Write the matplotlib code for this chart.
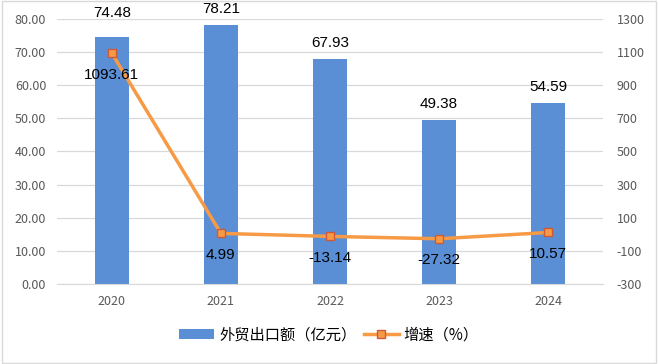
import matplotlib
matplotlib.use("Agg")
import matplotlib.pyplot as plt
from matplotlib.patches import Rectangle

plt.rcParams['font.family'] = ['Noto Sans CJK SC', 'DejaVu Sans']

years = ['2020', '2021', '2022', '2023', '2024']
exports = [74.48, 78.21, 67.93, 49.38, 54.59]
growth = [1093.61, 4.99, -13.14, -27.32, 10.57]
left_ticks = [0, 10, 20, 30, 40, 50, 60, 70, 80]
right_ticks = [-300, -100, 100, 300, 500, 700, 900, 1100, 1300]

bar_color = '#5A8FD5'
line_color = '#F79A45'
marker_edge = '#D0583A'
tick_color = '#595959'
grid_color = '#D9D9D9'

fig = plt.figure(figsize=(6.58, 3.64), dpi=100)
ax = fig.add_axes([0.087, 0.22, 0.829, 0.728])
ax2 = ax.twinx()

x = list(range(len(years)))
ax.bar(x, exports, width=0.31, color=bar_color, zorder=2, label='外贸出口额（亿元）')
ax.set_ylim(0, 80)
ax.set_xlim(-0.5, len(years) - 0.5)
ax.set_yticks(left_ticks)
ax.set_yticklabels([f'{v:.2f}' for v in left_ticks])
ax.set_xticks(x)
ax.set_xticklabels(years)
ax.grid(axis='y', color=grid_color, linewidth=0.9, zorder=0)
ax.set_axisbelow(True)
for s in ['top', 'right', 'left']:
    ax.spines[s].set_visible(False)
ax.spines['bottom'].set_color(grid_color)
ax.tick_params(axis='both', length=0, colors=tick_color, labelsize=9)
ax.tick_params(axis='x', pad=8)
ax.tick_params(axis='y', pad=8)

for i, (xi, v) in enumerate(zip(x, exports)):
    # first label sits higher to clear the line marker
    off = 7.2 if i == 0 else 4.8
    ax.text(xi, v + off, f'{v:.2f}', ha='center', va='center', fontsize=11, color='black',
            family=['Liberation Sans', 'DejaVu Sans'], clip_on=False)

ax2.plot(x, growth, color=line_color, linewidth=2.5, marker='s', markersize=6,
         markerfacecolor=line_color, markeredgecolor=marker_edge, markeredgewidth=1.0,
         zorder=3, label='增速（%）')
ax2.set_ylim(-300, 1300)
ax2.set_yticks(right_ticks)
ax2.set_yticklabels([str(v) for v in right_ticks])
for s in ['top', 'right', 'left', 'bottom']:
    ax2.spines[s].set_visible(False)
ax2.tick_params(axis='y', length=0, colors=tick_color, labelsize=9, pad=10)

for xi, v in zip(x, growth):
    ax2.text(xi, v - 130, f'{v:.2f}', ha='center', va='center', fontsize=11, color='black',
             family=['Liberation Sans', 'DejaVu Sans'])

h1, l1 = ax.get_legend_handles_labels()
h2, l2 = ax2.get_legend_handles_labels()
fig.legend(h1 + h2, l1 + l2, loc='center', bbox_to_anchor=(0.5, 0.08), ncol=2,
           frameon=False, fontsize=11, handlelength=2.3, columnspacing=0.5, handletextpad=0.3)

fig.patches.append(Rectangle((0.003, 0.003), 0.994, 0.994, transform=fig.transFigure,
                             fill=False, edgecolor='#D9D9D9', linewidth=1.0))

fig.savefig('out.png', dpi=100)
